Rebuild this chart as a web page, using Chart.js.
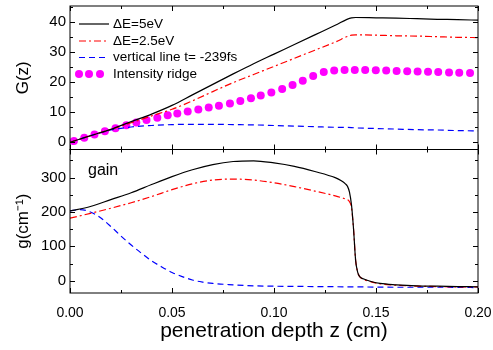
<!DOCTYPE html>
<html>
<head>
<meta charset="utf-8">
<script src="https://cdn.jsdelivr.net/npm/chart.js@4"></script>
<style>body{margin:0;background:#fff}</style>
</head>
<body>
<canvas id="myChart" width="493" height="350"></canvas>
<script>
// x ticks and y ticks
const xTicks = [0, 0.05, 0.10, 0.15, 0.20];
const yTopTicks = [0, 10, 20, 30, 40];
const yBotTicks = [0, 100, 200, 300];

const seriesLabels = ['\u0394E=5eV', '\u0394E=2.5eV', 'vertical line t= -239fs', 'Intensity ridge'];

// top panel G(z)
const zTop = [0, 0.005, 0.01, 0.02, 0.03, 0.04, 0.05, 0.06, 0.07, 0.08, 0.09, 0.10, 0.11, 0.12, 0.13, 0.138, 0.14, 0.15, 0.16, 0.17, 0.18, 0.19, 0.20];
const gBlackTop = [0, 1.1, 2.2, 4.3, 6.9, 9.4, 12.3, 15.8, 19.3, 22.8, 26.2, 29.4, 32.6, 35.8, 39.0, 41.5, 41.6, 41.5, 41.4, 41.2, 41.0, 40.9, 40.7];
const gRedTop = [0, 1.1, 2.2, 4.3, 6.5, 8.8, 11.0, 13.8, 16.9, 19.9, 22.6, 25.3, 28.0, 30.7, 33.4, 35.7, 35.8, 35.7, 35.5, 35.4, 35.2, 35.0, 34.9];
const gBlueTop = [0, 1.1, 2.2, 4.1, 5.1, 5.6, 5.9, 6.0, 6.0, 5.9, 5.8, 5.6, 5.4, 5.2, 5.0, 4.9, 4.8, 4.6, 4.4, 4.2, 4.1, 3.9, 3.8];

const zRidge = [0.0019, 0.0070, 0.0120, 0.0171, 0.0223, 0.0276, 0.0325, 0.0375, 0.0428, 0.0479,
  0.0526, 0.0577, 0.0629, 0.0680, 0.0730, 0.0784, 0.0835, 0.0887, 0.0935, 0.0987,
  0.1040, 0.1091, 0.1141, 0.1192, 0.1244, 0.1295, 0.1346, 0.1396, 0.1447, 0.1499,
  0.1550, 0.1601, 0.1653, 0.1704, 0.1755, 0.1805, 0.1858, 0.1908, 0.1961];
const gRidge = [0.4, 1.5, 2.6, 3.7, 4.7, 5.7, 6.6, 7.4, 8.2, 9.0,
  9.6, 10.3, 10.9, 11.6, 12.2, 12.9, 13.8, 14.7, 15.6, 16.6,
  17.8, 19.1, 20.5, 22.1, 23.4, 23.9, 24.1, 24.1, 24.1, 24.0,
  23.9, 23.8, 23.7, 23.6, 23.5, 23.4, 23.3, 23.2, 23.1];

// bottom panel gain
const zBot = [0, 0.01, 0.02, 0.03, 0.04, 0.05, 0.06, 0.07, 0.08, 0.09, 0.10, 0.11, 0.12, 0.13, 0.133, 0.135, 0.136, 0.137, 0.138, 0.139, 0.140, 0.141, 0.142, 0.144, 0.148, 0.152, 0.16, 0.17, 0.18, 0.19, 0.20];
const gainBlack = [203, 216, 236, 256, 280, 303, 323, 338, 347, 349, 343, 333, 318, 300, 291, 282, 275, 258, 220, 150, 60, 25, 12, 5, -3, -8, -12, -15, -16, -17, -18];
const gainRed = [182, 196, 211, 227, 245, 265, 282, 293, 296, 293, 285, 274, 261, 247, 242, 238, 236, 230, 212, 150, 60, 25, 12, 4, -4, -9, -13, -16, -17, -18, -18];
const zBlueBot = [0, 0.005, 0.01, 0.015, 0.02, 0.025, 0.03, 0.035, 0.04, 0.045, 0.05, 0.055, 0.06, 0.065, 0.07, 0.08, 0.09, 0.10, 0.12, 0.14, 0.16, 0.18, 0.20];
const gainBlue = [203, 207, 200, 183, 158, 130, 104, 80, 58, 40, 24, 12, 2, -4, -8, -12, -15, -16, -17, -18, -19, -19, -20];

const FONT = "'Liberation Sans', Arial, sans-serif";
const pts = (xs, ys) => xs.map((x, i) => ({ x: x, y: ys[i] }));

const lineSet = (label, xs, ys, axis, color, dash) => ({
    label: label,
    data: pts(xs, ys),
    yAxisID: axis,
    borderColor: color,
    borderWidth: 1.2,
    borderDash: dash,
    pointRadius: 0,
    fill: false,
    cubicInterpolationMode: 'monotone'
});

const styles = [
    { color: '#000000', dash: [] },
    { color: '#ff0000', dash: [7, 3, 2, 3] },
    { color: '#0000ff', dash: [6, 4] }
];

// frame, inward ticks, legend and "gain" label
const framePlugin = {
    id: 'frame',
    afterDraw(chart) {
        const c = chart.ctx;
        const x = chart.scales.x;
        const area = chart.chartArea;
        c.save();
        c.strokeStyle = '#000';
        c.lineWidth = 1;
        [['yTop', 5], ['yBot', 50]].forEach(([id, step]) => {
            const s = chart.scales[id];
            c.strokeRect(area.left, s.top, area.right - area.left, s.bottom - s.top);
            c.beginPath();
            for (let v = 0; v <= 0.2001; v += 0.025) {
                const px = Math.round(x.getPixelForValue(v)) + 0.5;
                const len = Math.abs((v / 0.05) - Math.round(v / 0.05)) < 0.01 ? 5 : 3;
                c.moveTo(px, s.bottom); c.lineTo(px, s.bottom - len);
                c.moveTo(px, s.top); c.lineTo(px, s.top + len);
            }
            for (let v = 0; v <= s.max; v += step) {
                const py = Math.round(s.getPixelForValue(v)) + 0.5;
                const len = Math.round(v / step) % 2 === 0 ? 5 : 3;
                c.moveTo(area.left, py); c.lineTo(area.left + len, py);
                c.moveTo(area.right, py); c.lineTo(area.right - len, py);
            }
            c.stroke();
        });

        // legend
        const rows = [24, 41, 57.5, 74];
        c.font = '13.5px ' + FONT;
        c.textBaseline = 'middle';
        c.fillStyle = '#000';
        rows.forEach((ry, i) => {
            if (i < 3) {
                c.strokeStyle = styles[i].color;
                c.lineWidth = 1.2;
                c.setLineDash(styles[i].dash);
                c.beginPath();
                c.moveTo(79, ry); c.lineTo(109, ry);
                c.stroke();
                c.setLineDash([]);
            } else {
                c.fillStyle = '#ff00ff';
                [79, 89, 100].forEach(dx => {
                    c.beginPath(); c.arc(dx, ry, 4, 0, Math.PI * 2); c.fill();
                });
                c.fillStyle = '#000';
            }
            c.fillText(seriesLabels[i], 113, ry);
        });

        c.font = '16px ' + FONT;
        c.textBaseline = 'alphabetic';
        c.fillText('gain', 88, 175);
        c.restore();
    }
};

const yFit = s => { s.width = 70; s.paddingTop = 0; s.paddingBottom = 0; };

const ctx = document.querySelector('#myChart');
const myChart = new Chart(ctx, {
    type: 'line',
    data: {
        datasets: [
            lineSet(seriesLabels[0], zTop, gBlackTop, 'yTop', styles[0].color, styles[0].dash),
            lineSet(seriesLabels[1], zTop, gRedTop, 'yTop', styles[1].color, styles[1].dash),
            lineSet(seriesLabels[2], zTop, gBlueTop, 'yTop', styles[2].color, styles[2].dash),
            {
                label: seriesLabels[3],
                data: pts(zRidge, gRidge),
                yAxisID: 'yTop',
                showLine: false,
                pointRadius: 4,
                pointBorderWidth: 0,
                pointBackgroundColor: '#ff00ff',
                pointBorderColor: '#ff00ff'
            },
            lineSet('gain 5eV', zBot, gainBlack, 'yBot', styles[0].color, styles[0].dash),
            lineSet('gain 2.5eV', zBot, gainRed, 'yBot', styles[1].color, styles[1].dash),
            lineSet('gain vertical', zBlueBot, gainBlue, 'yBot', styles[2].color, styles[2].dash)
        ]
    },
    options: {
        responsive: false,
        animation: false,
        devicePixelRatio: 1,
        layout: { padding: { top: 6, right: 0, left: 0, bottom: 0 } },
        plugins: { legend: { display: false }, tooltip: { enabled: false } },
        scales: {
            x: {
                type: 'linear',
                min: 0,
                max: 0.2,
                afterBuildTicks: s => { s.ticks = xTicks.map(v => ({ value: v })); },
                afterFit: s => { s.height = 57; s.paddingRight = 15; s.paddingLeft = 0; },
                grid: { display: false, drawTicks: false },
                border: { display: false },
                ticks: {
                    padding: 12,
                    color: '#000',
                    font: { family: FONT, size: 14 },
                    callback: v => v.toFixed(2)
                },
                title: {
                    display: true,
                    text: 'penetration depth z (cm)',
                    color: '#000',
                    font: { family: FONT, size: 21 },
                    padding: { top: 0, bottom: 6 }
                }
            },
            yBot: {
                type: 'linear',
                position: 'left',
                stack: 'panels',
                stackWeight: 1,
                min: -35.8,
                max: 382,
                afterBuildTicks: s => { s.ticks = yBotTicks.map(v => ({ value: v })); },
                afterFit: yFit,
                grid: { display: false, drawTicks: false },
                border: { display: false },
                ticks: { padding: 4, color: '#000', font: { family: FONT, size: 15 } },
                title: {
                    display: true,
                    text: 'g(cm\u207B\u00B9)',
                    color: '#000',
                    font: { family: FONT, size: 17 },
                    padding: { top: 13, bottom: 0 }
                }
            },
            yTop: {
                type: 'linear',
                position: 'left',
                stack: 'panels',
                stackWeight: 1,
                min: -2.4,
                max: 45.43,
                afterBuildTicks: s => { s.ticks = yTopTicks.map(v => ({ value: v })); },
                afterFit: yFit,
                grid: { display: false, drawTicks: false },
                border: { display: false },
                ticks: { padding: 4, color: '#000', font: { family: FONT, size: 15 } },
                title: {
                    display: true,
                    text: 'G(z)',
                    color: '#000',
                    font: { family: FONT, size: 17 },
                    padding: { top: 13, bottom: 0 }
                }
            }
        }
    },
    plugins: [framePlugin]
});
</script>
</body>
</html>
